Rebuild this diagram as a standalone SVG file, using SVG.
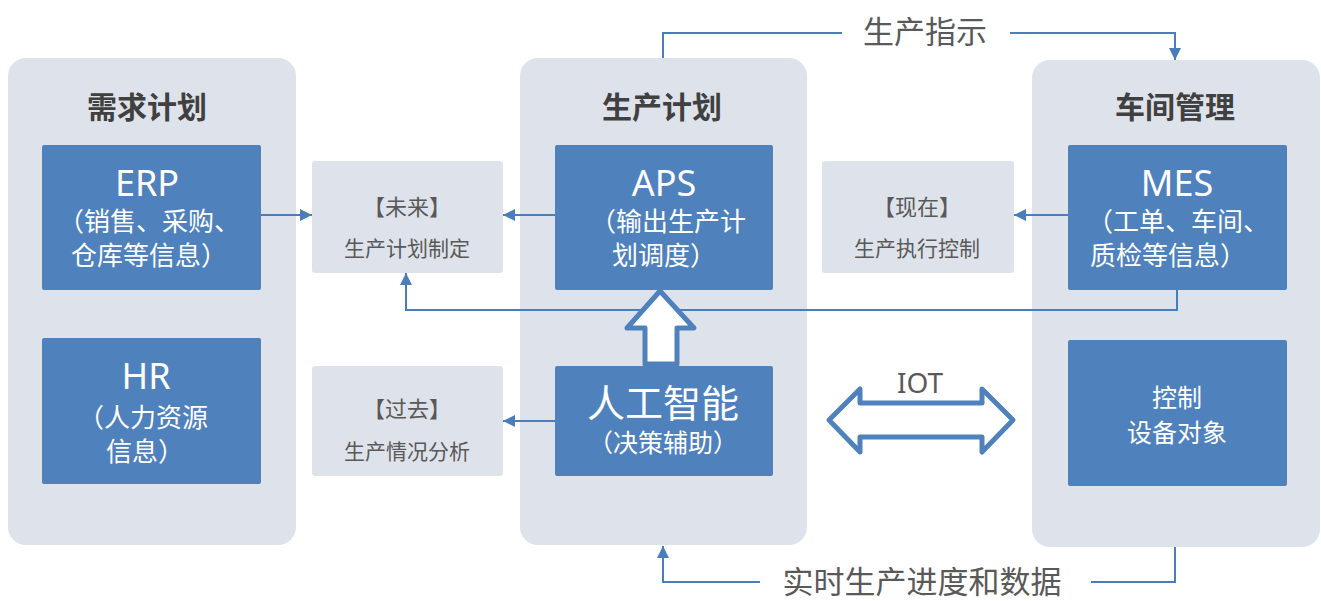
<svg xmlns="http://www.w3.org/2000/svg" width="1321" height="601" viewBox="0 0 1321 601">
<defs>
<marker id="ah" viewBox="0 0 10 10" refX="10" refY="5" markerWidth="12" markerHeight="12" markerUnits="userSpaceOnUse" orient="auto">
<path d="M0,0 L10,5 L0,10 z" fill="#4a7ebb"/>
</marker>
<style>
.panel{fill:#dee3eb}
.dark{fill:#4f81bd}
.light{fill:#dee3eb}
.t{font-family:"Noto Sans","Noto Sans CJK SC",sans-serif;text-anchor:middle}
.head{font-size:30px;font-weight:bold;fill:#404040}
.w{fill:#ffffff}
.g{fill:#595959}
.ln{fill:none;stroke:#4a7ebb;stroke-width:2}
.big{fill:#ffffff;stroke:#4f81bd;stroke-width:5;stroke-linejoin:round}
</style>
</defs>
<rect width="1321" height="601" fill="#ffffff"/>
<g id="panel-demand">
<rect class="panel" x="8" y="58" width="288" height="487" rx="18"/>
<text class="t head" x="147" y="118">需求计划</text>
</g>
<g id="panel-plan">
<rect class="panel" x="520" y="58" width="287" height="487" rx="18"/>
<text class="t head" x="662" y="118">生产计划</text>
</g>
<g id="panel-shop">
<rect class="panel" x="1032" y="60" width="288" height="487" rx="18"/>
<text class="t head" x="1175" y="118">车间管理</text>
</g>
<g id="erp">
<rect class="dark" x="42" y="145" width="219" height="145" rx="2"/>
<text class="t w" x="147" y="196" font-size="36">ERP</text>
<text class="t w" x="149" y="231" font-size="26">（销售、采购、</text>
<text class="t w" x="149" y="265" font-size="26">仓库等信息）</text>
</g>
<g id="hr">
<rect class="dark" x="42" y="338" width="219" height="146" rx="2"/>
<text class="t w" x="146" y="389" font-size="36">HR</text>
<text class="t w" x="143" y="427" font-size="26">（人力资源</text>
<text class="t w" x="145" y="461" font-size="26">信息）</text>
</g>
<g id="aps">
<rect class="dark" x="555" y="145" width="218" height="145" rx="2"/>
<text class="t w" x="664" y="196" font-size="36">APS</text>
<text class="t w" x="668" y="231" font-size="26">（输出生产计</text>
<text class="t w" x="664" y="265" font-size="26">划调度）</text>
</g>
<g id="ai">
<rect class="dark" x="555" y="366" width="218" height="110" rx="2"/>
<text class="t w" x="663" y="417" font-size="38">人工智能</text>
<text class="t w" x="663" y="452" font-size="25">（决策辅助）</text>
</g>
<g id="mes">
<rect class="dark" x="1068" y="145" width="219" height="145" rx="2"/>
<text class="t w" x="1177" y="196" font-size="36">MES</text>
<text class="t w" x="1178" y="231" font-size="26">（工单、车间、</text>
<text class="t w" x="1168" y="265" font-size="26">质检等信息）</text>
</g>
<g id="device">
<rect class="dark" x="1068" y="340" width="219" height="146" rx="2"/>
<text class="t w" x="1177" y="407" font-size="25">控制</text>
<text class="t w" x="1177" y="442" font-size="25">设备对象</text>
</g>
<g id="future">
<rect class="light" x="312" y="161" width="191" height="112" rx="3"/>
<text class="t g" x="407" y="215" font-size="22">【未来】</text>
<text class="t g" x="407" y="256" font-size="21">生产计划制定</text>
</g>
<g id="past">
<rect class="light" x="312" y="366" width="191" height="110" rx="3"/>
<text class="t g" x="407" y="417" font-size="22">【过去】</text>
<text class="t g" x="407" y="459" font-size="21">生产情况分析</text>
</g>
<g id="now">
<rect class="light" x="822" y="161" width="192" height="112" rx="3"/>
<text class="t g" x="917" y="215" font-size="22">【现在】</text>
<text class="t g" x="917" y="256" font-size="21">生产执行控制</text>
</g>
<g id="connectors">
<line class="ln" x1="261" y1="215" x2="312" y2="215" marker-end="url(#ah)"/>
<line class="ln" x1="555" y1="215" x2="503" y2="215" marker-end="url(#ah)"/>
<line class="ln" x1="1068" y1="215" x2="1014" y2="215" marker-end="url(#ah)"/>
<line class="ln" x1="555" y1="421" x2="503" y2="421" marker-end="url(#ah)"/>
<polyline class="ln" points="1177,290 1177,310 406,310 406,273" marker-end="url(#ah)"/>
<polyline class="ln" points="663,58 663,33 842,33"/>
<polyline class="ln" points="1010,33 1175,33 1175,60" marker-end="url(#ah)"/>
<text class="t" x="925" y="43" font-size="31" fill="#595959">生产指示</text>
<polyline class="ln" points="760,582 663,582 663,546" marker-end="url(#ah)"/>
<polyline class="ln" points="1091,582 1175,582 1175,547"/>
<text class="t" x="922" y="593" font-size="31" fill="#595959">实时生产进度和数据</text>
<path class="big" d="M660,291 L694,328 L677,328 L677,364 L645,364 L645,328 L627,328 Z"/>
<path class="big" d="M829,420 L860,389 L860,403 L982,403 L982,389 L1013,420 L982,452 L982,437 L860,437 L860,452 Z"/>
<text class="t" x="920" y="393" font-size="28" fill="#595959">IOT</text>
</g>
</svg>
